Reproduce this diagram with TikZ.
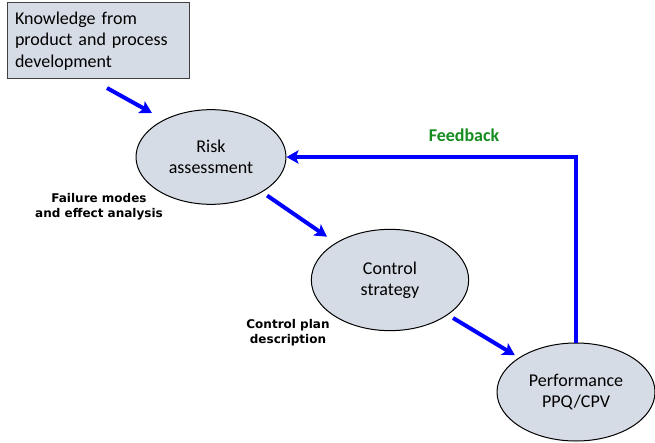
\documentclass[tikz,border=0pt]{standalone}
\usepackage{fontspec}
\setmainfont{Carlito}
\newfontfamily\labelfont{DejaVu Sans}
\usepackage{tikz}
\usetikzlibrary{arrows.meta,shapes.geometric}
\usepackage{xcolor}
\definecolor{stagefill}{RGB}{214,220,229}
\definecolor{boxline}{RGB}{64,64,64}
\definecolor{fbgreen}{RGB}{20,140,30}

\begin{document}
\begin{tikzpicture}[x=0.75pt,y=-0.75pt,
  >={Stealth[length=9pt,width=10pt,inset=2pt]},
  font=\fontsize{13.5}{16}\selectfont,
  flow/.style={->,blue,line width=3pt},
  stage/.style={ellipse,draw=black,fill=stagefill,line width=0.75pt,align=center,inner sep=0pt},
  knowbox/.style={draw=boxline,fill=stagefill,line width=0.75pt,align=left,
    minimum width=136.5pt,minimum height=57pt,text width=124.5pt,inner xsep=6pt},
  note/.style={font=\labelfont\bfseries\fontsize{9}{11.25}\selectfont,align=center}]
\useasboundingbox (0,0) rectangle (655,442);
% boxes and stages
\node[knowbox] (know) at (98,41) {Knowledge from\\product and process\\development};
\node[stage,minimum width=112.5pt,minimum height=71pt] (risk) at (211,157) {Risk\\assessment};
\node[stage,minimum width=118pt,minimum height=76pt] (ctrl) at (390,280) {Control\\strategy};
\node[stage,minimum width=118.5pt,minimum height=73.5pt] (perf) at (576,392) {Performance\\PPQ/CPV};
% labels
\node[note] (fmea) at (99,207) {Failure modes\\and effect analysis};
\node[note] (cplan) at (288,333) {Control plan\\description};
\node[font=\bfseries\fontsize{13.5}{16}\selectfont,text=fbgreen] (fb) at (464,135) {Feedback};
% arrows
\coordinate (kin) at (107,88);
\coordinate (kout) at (152,113);
\draw[flow] (kin) -- (kout);
\draw[flow,shorten <=4.5pt,shorten >=8pt] (risk) -- (ctrl);
\draw[flow,shorten <=4.5pt,shorten >=3.5pt] (ctrl) -- (perf);
\draw[flow] (perf.north) |- (risk.east);
\end{tikzpicture}
\end{document}
